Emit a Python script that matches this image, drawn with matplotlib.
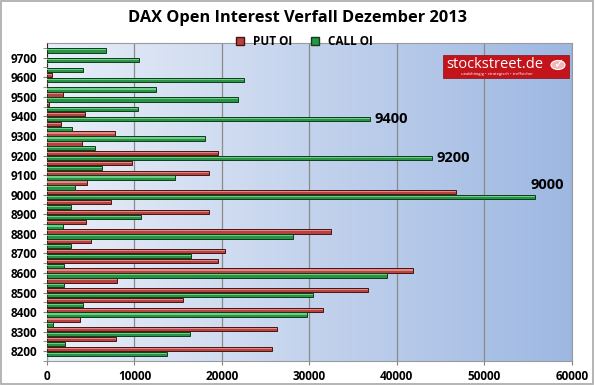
import matplotlib
matplotlib.use("Agg")
import matplotlib.pyplot as plt
import numpy as np
from matplotlib.patches import Rectangle, Circle
from matplotlib.lines import Line2D

plt.rcParams['font.family'] = ['Open Sans', 'DejaVu Sans']

# strikes from 8200 to 9750 in steps of 50
strikes = [8200, 8250, 8300, 8350, 8400, 8450, 8500, 8550, 8600, 8650,
           8700, 8750, 8800, 8850, 8900, 8950, 9000, 9050, 9100, 9150,
           9200, 9250, 9300, 9350, 9400, 9450, 9500, 9550, 9600, 9650,
           9700, 9750]
put_oi = [25700, 7900, 26300, 3800, 31500, 15500, 36700, 8000, 41900, 19600,
          20400, 5000, 32500, 4500, 18500, 7300, 46800, 4600, 18500, 9700,
          19600, 4000, 7800, 1600, 4300, 200, 1800, 0, 530, 0,
          0, 0]
call_oi = [13700, 2100, 16400, 700, 29700, 4100, 30400, 1900, 38900, 2000,
           16500, 2800, 28100, 1800, 10700, 2700, 55800, 3200, 14600, 6300,
           44000, 5500, 18100, 2900, 36900, 10400, 21800, 12500, 22500, 4150,
           10550, 6700]
highlight = {9400: 'left', 9200: 'left', 9000: 'top'}

fig = plt.figure(figsize=(5.95, 3.85), dpi=100)
ax = fig.add_axes([0.079, 0.0623, 0.882, 0.826])

# gradient plot background
grad = np.linspace(0, 1, 256).reshape(1, -1)
c0 = np.array([233, 238, 248]) / 255
c1 = np.array([158, 184, 226]) / 255
img = c0[None, None, :] * (1 - grad[..., None]) + c1[None, None, :] * grad[..., None]
ax.imshow(img, extent=[0, 1, 0, 1], transform=ax.transAxes, aspect='auto', zorder=0)

y = np.array(strikes, dtype=float)
h = 22
put_y = y + 12
call_y = y - 13

# main bars plus a light stripe for the cylinder look
ax.barh(put_y, put_oi, height=h, color='#b8423f', edgecolor='#4a1412', linewidth=0.7, zorder=3)
ax.barh(put_y + 3, put_oi, height=6, color='#e08a88', linewidth=0, zorder=4)
ax.barh(call_y, call_oi, height=h, color='#2a9446', edgecolor='#0d3d1a', linewidth=0.7, zorder=3)
ax.barh(call_y + 3, call_oi, height=6, color='#6ccf86', linewidth=0, zorder=4)

for s, c in zip(strikes, call_oi):
    if s in highlight:
        if highlight[s] == 'left':
            ax.text(c + 500, s - 11, str(s), ha='left', va='center',
                    fontsize=10.5, fontweight='bold', zorder=5)
        else:
            ax.text(c + 1400, s + 48, str(s), ha='center', va='center',
                    fontsize=10.5, fontweight='bold', zorder=5)

ax.set_xlim(0, 60000)
ax.set_ylim(8185, 9775)
ax.set_xticks(np.arange(0, 60001, 10000))
ax.set_yticks(np.arange(8200, 9701, 100))
ax.set_yticks(np.arange(8150, 9751, 100), minor=True)
ax.tick_params(axis='both', labelsize=8.5, length=3, color='#808080')
ax.tick_params(axis='y', which='minor', length=3, color='#808080')
ax.tick_params(axis='y', pad=4)
for lab in ax.get_xticklabels() + ax.get_yticklabels():
    lab.set_fontweight('bold')
ax.grid(axis='x', color='#8a8a8a', linewidth=0.9, zorder=1)
ax.set_axisbelow(True)
for sp in ax.spines.values():
    sp.set_color('#9a9a9a')
    sp.set_linewidth(0.8)

fig.text(0.5, 0.953, 'DAX Open Interest Verfall Dezember 2013', ha='center', va='center',
         fontsize=11.8, fontweight='bold')

# legend
handles = [Line2D([], [], marker='s', linestyle='', markersize=6, markerfacecolor='#b8423f',
                  markeredgecolor='#4a1412', label='PUT OI'),
           Line2D([], [], marker='s', linestyle='', markersize=6, markerfacecolor='#2a9446',
                  markeredgecolor='#0d3d1a', label='CALL OI')]
fig.legend(handles=handles, loc='center', bbox_to_anchor=(0.505, 0.893), ncol=2, frameon=False,
           prop={'size': 8.5, 'weight': 'bold'}, handletextpad=0.1, columnspacing=1.0)

# stockstreet logo
lx0, ly0 = 443 / 595, 1 - 78 / 385
fig.patches.append(Rectangle((lx0, ly0), 126 / 595, 23 / 385, transform=fig.transFigure,
                             facecolor='#c3141c', edgecolor='#8a0d12', linewidth=0.5, zorder=10))
fig.text(446 / 595, 1 - 64 / 385, 'stockstreet.de', color='white', fontsize=10.5,
         ha='left', va='center', zorder=11)
fig.text(497 / 595, 1 - 74.5 / 385, 'unabhängig • strategisch • treffsicher', color='white',
         fontsize=3, ha='center', va='center', zorder=11)
fig.patches.append(Circle((558 / 595, 1 - 65 / 385), 7 / 595, transform=fig.transFigure,
                          facecolor='#f3b5b5', edgecolor='white', linewidth=0.8, zorder=11))
fig.text(558 / 595, 1 - 65 / 385, '✓', color='white', fontsize=9, fontweight='bold',
         ha='center', va='center', zorder=12, family='DejaVu Sans')

# outer frame
fig.patches.append(Rectangle((0.002, 0.003), 0.995, 0.994, transform=fig.transFigure,
                             facecolor='none', edgecolor='#a8a8a8', linewidth=1.2))

fig.savefig('out.png', dpi=100)
